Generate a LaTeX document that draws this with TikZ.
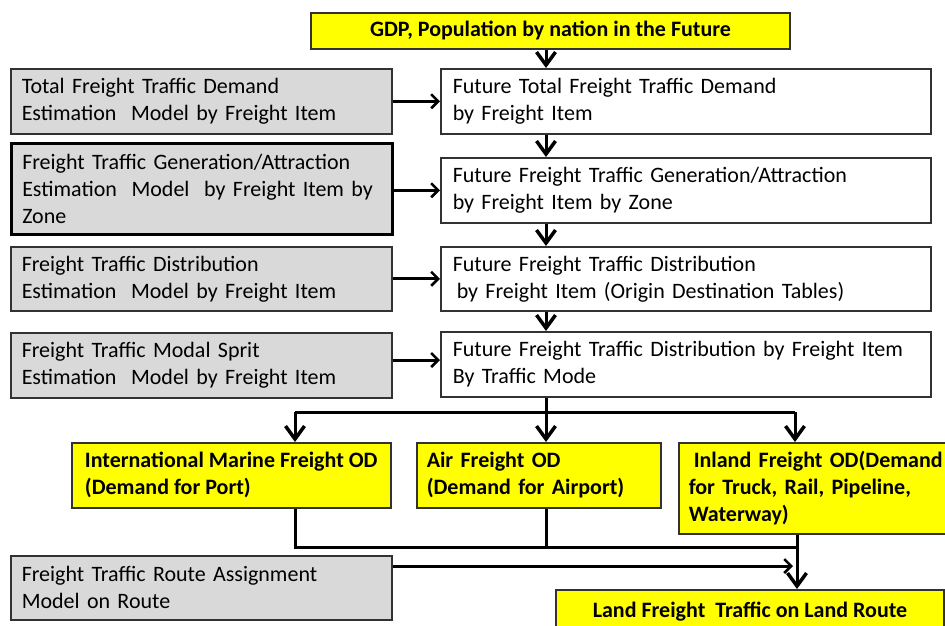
\documentclass[tikz,border=0pt]{standalone}
\usepackage{fontspec}
\setmainfont{Carlito}
\usetikzlibrary{arrows.meta,calc}
\definecolor{modelgray}{RGB}{217,217,217}
\definecolor{odyellow}{RGB}{255,255,0}
\definecolor{edge}{RGB}{50,50,50}
\tikzset{box/.style={draw=edge,line width=1.5pt,anchor=north west,inner xsep=11pt,
    inner ysep=2pt,align=left,font=\fontsize{22}{27}\selectfont},
  model/.style={box,fill=modelgray},
  future/.style={box,fill=white,inner xsep=12pt},
  demand/.style={box,fill=odyellow,inner xsep=10pt,font=\fontsize{22}{27}\selectfont\bfseries},
  link/.style={line width=3pt,black},
  flow/.style={link,-{Straight Barb[length=13pt,width=19pt,line width=3.5pt]}},
  feed/.style={link,-{Straight Barb[length=7pt,width=14pt,line width=2.5pt]}}}

\begin{document}
\begin{tikzpicture}[x=1pt, y=-1pt]
\useasboundingbox (0,0) rectangle (945,625);
% top input
\node[demand,anchor=north,align=center,minimum width=479pt,minimum height=36pt]
  (gdp) at (550.5,12) {GDP, Population by nation in the Future};
% estimation models (left)
\node[model,text width=359pt,minimum height=65pt] (m1) at (10,68)
  {Total Freight Traffic Demand\\Estimation\ \ Model by Freight Item};
\node[model,draw=black,line width=2.5pt,text width=359pt,minimum height=91pt] (m2) at (10,142)
  {Freight Traffic Generation/Attraction\\Estimation\ \ Model\ \ by Freight Item by\\Zone};
\node[model,text width=359pt,minimum height=64pt] (m3) at (10,246)
  {Freight Traffic Distribution\\Estimation\ \ Model by Freight Item};
\node[model,text width=359pt,minimum height=65pt] (m4) at (10,332)
  {Freight Traffic Modal Sprit\\Estimation\ \ Model by Freight Item};
\node[model,text width=359pt,minimum height=64pt] (m5) at (10,555)
  {Freight Traffic Route Assignment\\Model on Route};
% future demand (right)
\node[future,text width=466pt,minimum height=65pt] (r1) at (440,68)
  {Future Total Freight Traffic Demand\\by Freight Item};
\node[future,text width=466pt,minimum height=65pt] (r2) at (440,157)
  {Future Freight Traffic Generation/Attraction\\by Freight Item by Zone};
\node[future,text width=466pt,minimum height=64pt] (r3) at (440,246)
  {Future Freight Traffic Distribution\\\hspace*{4pt}by Freight Item (Origin Destination Tables)};
\node[future,text width=466pt,minimum height=65pt] (r4) at (440,331)
  {Future Freight Traffic Distribution by Freight Item\\By Traffic Mode};
% OD by mode
\node[demand,inner xsep=4pt,minimum width=319pt,minimum height=65pt] (imf) at (71,442)
  {International Marine Freight OD\\(Demand for Port)};
\node[demand,text width=224pt,minimum height=65pt] (air) at (416,442)
  {Air Freight OD\\(Demand for Airport)};
\node[demand,text width=290pt,minimum height=91pt] (inl) at (678,442)
  {\hspace*{5pt}Inland Freight OD(Demand\\for Truck, Rail, Pipeline,\\Waterway)};
\node[demand,anchor=north,align=center,minimum width=388pt,minimum height=44pt]
  (land) at (750,589) {\raisebox{3pt}{Land Freight\ \ Traffic on Land Route}};
% helper points
\coordinate (spine) at (546,0);
\coordinate (bl) at (295,412);
\coordinate (br) at (795,412);
\coordinate (ml) at (295,547);
\coordinate (mr) at (797,547);
\coordinate (rt) at (793,566);
% main chain
\draw[flow] (gdp.south -| spine) -- (r1.north -| spine);
\draw[flow] (r1.south -| spine) -- (r2.north -| spine);
\draw[flow] (r2.south -| spine) -- (r3.north -| spine);
\draw[flow] (r3.south -| spine) -- (r4.north -| spine);
\draw[feed] (m1.east) -- (r1.west);
\draw[feed] (m2.east |- r2.west) -- (r2.west);
\draw[feed] (m3.east) -- (r3.west);
\draw[feed] (m4.east |- 0,360) -- (r4.west |- 0,360);
% split by mode
\draw[link] (r4.south -| spine) -- (bl -| spine);
\draw[link] (bl) -- (br);
\draw[flow] (bl) -- (bl |- imf.north);
\draw[flow] (bl -| spine) -- (air.north -| spine);
\draw[flow] (br) -- (br |- inl.north);
% merge to land route
\draw[link] (imf.south -| ml) -- (ml) -- (mr);
\draw[link] (air.south -| spine) -- (ml -| spine);
\draw[flow] (inl.south -| mr) -- (land.north -| mr);
\draw[feed] (m5.east |- rt) -- (rt);
\end{tikzpicture}
\end{document}
